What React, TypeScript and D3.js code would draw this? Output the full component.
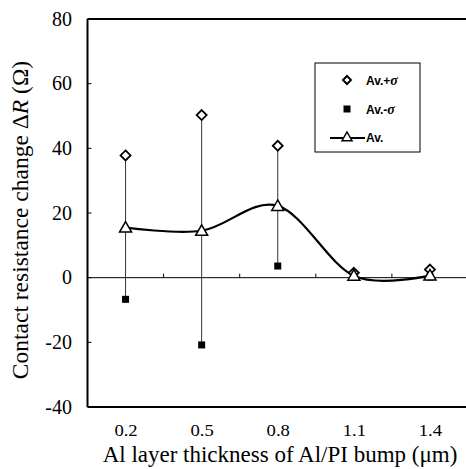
import React from "react";
import * as d3 from "d3";

const categories = ["0.2", "0.5", "0.8", "1.1", "1.4"];
const avPlus = [37.8, 50.3, 40.8, 1.5, 2.5];
const avMinus = [-6.7, -20.8, 3.6, 0.4, 0.2];
const avg = [15.5, 14.5, 22.2, 0.6, 0.7];
const yTicks = [-40, -20, 0, 20, 40, 60, 80];

export default function App() {
  const W = 466, H = 469;
  const left = 87.5, right = 468, top = 19, bottom = 407;
  const x = d3.scaleBand<string>().domain(categories).range([left, right]);
  const y = d3.scaleLinear().domain([-40, 80]).range([bottom, top]);
  const cx = (c: string) => (x(c) as number) + x.bandwidth() / 2;

  const line = d3
    .line<number>()
    .x((_, i) => cx(categories[i]))
    .y((d) => y(d))
    .curve(d3.curveCardinal.tension(0));

  const serif = "'Liberation Serif', 'Times New Roman', serif";
  const sans = "'Liberation Sans', Arial, sans-serif";

  const diamond = (px: number, py: number, r = 5) =>
    `M${px},${py - r}L${px + r},${py}L${px},${py + r}L${px - r},${py}Z`;
  const tri = (px: number, py: number, r = 6) =>
    `M${px},${py - r}L${px + r},${py + r * 0.75}L${px - r},${py + r * 0.75}Z`;

  const legX = 315, legY = 63;

  return (
    <svg width={W} height={H} style={{ position: "absolute", left: 0, top: 0, background: "#fff" }}>
      <rect x={0} y={0} width={W} height={H} fill="#fff" />
      {/* frame */}
      <line x1={left} x2={right} y1={top} y2={top} stroke="#000" strokeWidth={2} />
      <line x1={left} x2={right} y1={bottom} y2={bottom} stroke="#000" strokeWidth={2} />
      <line x1={left} x2={left} y1={top} y2={bottom} stroke="#000" strokeWidth={2} />
      {/* y ticks */}
      {yTicks.map((t) => (
        <g key={t}>
          <line x1={left} x2={left + 4} y1={y(t)} y2={y(t)} stroke="#000" strokeWidth={1} />
          <text x={72} y={y(t) + 6.5} textAnchor="end" fontFamily={serif} fontSize={20}>
            {t}
          </text>
        </g>
      ))}
      {/* zero line */}
      <line x1={left} x2={right} y1={y(0)} y2={y(0)} stroke="#000" strokeWidth={1} />
      {categories.slice(1).map((c) => (
        <line key={c} x1={x(c) as number} x2={x(c) as number} y1={y(0)} y2={y(0) - 4} stroke="#000" strokeWidth={1} />
      ))}
      {/* x labels */}
      {categories.map((c) => (
        <text
          key={c}
          transform={`translate(${cx(c) + 0.5},435.5) scale(1.13,1)`}
          textAnchor="middle"
          fontFamily={serif}
          fontSize={16.5}
        >
          {c}
        </text>
      ))}
      <text x={280} y={462} textAnchor="middle" fontFamily={serif} fontSize={23}>
        Al layer thickness of Al/PI bump (μm)
      </text>
      <text
        transform={`translate(27.5,220) rotate(-90)`}
        textAnchor="middle"
        fontFamily={serif}
        fontSize={23.5}
      >
        Contact resistance change Δ<tspan fontStyle="italic">R</tspan> (Ω)
      </text>
      {/* error bars */}
      {categories.map((c, i) => (
        <line key={c} x1={cx(c)} x2={cx(c)} y1={y(avPlus[i])} y2={y(avMinus[i])} stroke="#000" strokeWidth={0.8} />
      ))}
      {/* avg line */}
      <path d={line(avg) || ""} fill="none" stroke="#000" strokeWidth={2.2} />
      {/* markers */}
      {categories.map((c, i) => (
        <rect key={"m" + c} x={cx(c) - 3.5} y={y(avMinus[i]) - 3.5} width={7} height={7} fill="#000" />
      ))}
      {categories.map((c, i) => (
        <path key={"p" + c} d={diamond(cx(c), y(avPlus[i]))} fill="#fff" stroke="#000" strokeWidth={1.8} />
      ))}
      {categories.map((c, i) => (
        <path key={"a" + c} d={tri(cx(c), y(avg[i]))} fill="#fff" stroke="#000" strokeWidth={1.5} />
      ))}
      {/* legend */}
      <rect x={legX} y={legY} width={105} height={89} fill="#fff" stroke="#000" strokeWidth={1} />
      <path d={diamond(347, 80, 4)} fill="#fff" stroke="#000" strokeWidth={2} />
      <text x={366} y={84.5} fontFamily={sans} fontSize={12} fontWeight="bold">
        Av.+<tspan fontStyle="italic" fontFamily={serif} fontSize={14}>σ</tspan>
      </text>
      <rect x={343.5} y={105.5} width={7} height={7} fill="#000" />
      <text x={366} y={113.5} fontFamily={sans} fontSize={12} fontWeight="bold">
        Av.-<tspan fontStyle="italic" fontFamily={serif} fontSize={14}>σ</tspan>
      </text>
      <line x1={330} x2={365} y1={138} y2={138} stroke="#000" strokeWidth={2} />
      <path d={tri(347, 137, 5)} fill="#fff" stroke="#000" strokeWidth={1.5} />
      <text x={366} y={142} fontFamily={sans} fontSize={12} fontWeight="bold">
        Av.
      </text>
    </svg>
  );
}
